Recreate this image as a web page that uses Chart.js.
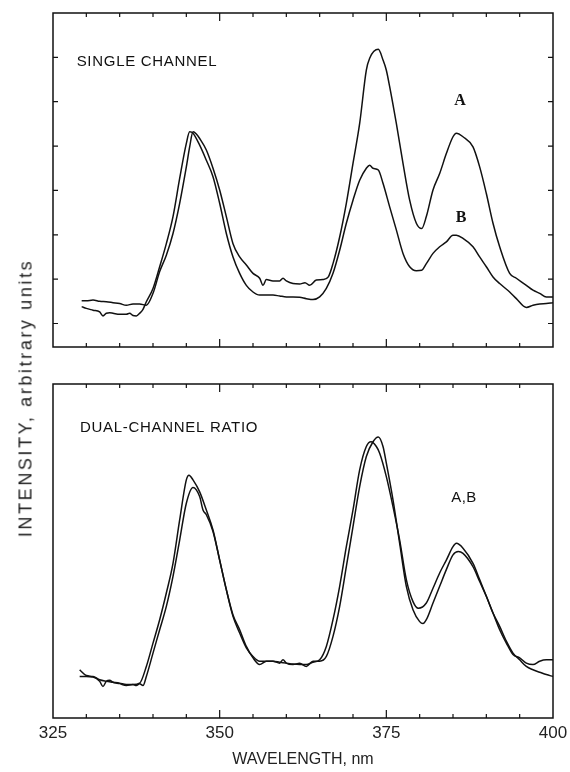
<!DOCTYPE html>
<html lang="en">
<head>
  <meta charset="UTF-8">
  <title>Intensity vs wavelength</title>
  <script src="https://cdn.jsdelivr.net/npm/chart.js"></script>
  <style>
    body { margin: 0; background: #fff; width: 570px; height: 772px; position: relative; overflow: hidden; }
    canvas { position: absolute; left: 0; }
    #topChart { top: 0; }
    #botChart { top: 360px; }
    #ylabel {
      position: absolute; left: 26px; top: 398px;
      transform: translate(-50%, -50%) rotate(-90deg);
      white-space: nowrap; color: #222;
      font: 18px "Liberation Sans", Arial, sans-serif; letter-spacing: 2.6px;
    }
  </style>
</head>
<body>
  <canvas id="topChart" width="570" height="360"></canvas>
  <canvas id="botChart" width="570" height="412"></canvas>
  <div id="ylabel">INTENSITY, arbitrary units</div>

  <script>
    // --- single channel (top panel) ---
    const topWlA = [329.3,330,331,332,333,334,335,336,337,338,339,340,341,342,343,344,345,345.5,346,346.5,
      347,348,349,350,351,352,353,354,355,356,356.5,357,358,359,359.5,360,361,362,362.8,363.5,
      364.5,365.5,366.3,367,368,369,370,371,372,372.5,373.8,374.5,375,375.5,376.5,377.5,378.5,379.5,380.3,381,
      382,383,384,385,385.5,386.5,388,389,390,391,392,393.5,394.5,396,397,398,399,400];
    const topA = [0.51,0.51,0.53,0.50,0.49,0.47,0.45,0.41,0.44,0.44,0.41,0.68,1.17,1.54,2.03,2.71,3.53,3.98,4.32,4.27,
      4.17,3.91,3.50,3.01,2.41,1.80,1.50,1.32,1.13,1.02,0.86,0.99,0.96,0.96,1.02,0.96,0.90,0.89,0.92,0.86,
      0.98,0.99,1.05,1.35,1.95,2.71,3.61,4.51,5.71,5.98,6.18,5.94,5.71,5.34,4.51,3.61,2.78,2.26,2.14,2.41,
      3.01,3.38,3.83,4.21,4.29,4.21,3.98,3.53,2.93,2.26,1.73,1.13,1.02,0.86,0.75,0.68,0.60,0.60];

    const topWlB = [329.3,330,331,332,332.5,333,333.5,334,335,336,336.5,337,337.5,338,338.5,339,340,341,342,343,
      344,345,345.5,346,347,348,349,350,351,352,353,354,355,356,357,358,359,360,361,362,
      363,364,365,366,367,368,369,370,371,372,372.5,373,373.8,374.5,375.5,376.5,377.5,378.5,379.5,380.3,
      381,382,383,384,385,385.5,386.5,388,389,390,391,392,393.5,394.5,396,397,398,399,400];
    const topB = [0.38,0.34,0.30,0.26,0.17,0.23,0.24,0.23,0.21,0.21,0.23,0.18,0.17,0.23,0.32,0.49,0.79,1.28,1.80,2.41,
      3.27,4.06,4.32,4.29,4.02,3.68,3.31,2.71,2.03,1.50,1.13,0.86,0.71,0.64,0.64,0.64,0.62,0.60,0.60,0.59,
      0.56,0.54,0.60,0.79,1.13,1.65,2.26,2.78,3.23,3.50,3.57,3.50,3.46,3.16,2.63,2.11,1.58,1.28,1.19,1.20,
      1.35,1.58,1.73,1.84,1.99,1.99,1.92,1.73,1.50,1.28,1.05,0.90,0.71,0.56,0.36,0.41,0.44,0.45,0.47];

    // --- dual-channel ratio (bottom panel) ---
    const botWlA = [329,330,331,332,333,334,335,336,337,338,339,340,341,342,343,344,345,345.4,346,347,
      348,349,350,351,352,353,354,355,356,357,358,359,360,361,362,363,364,365,366,367,
      368,369,370,371,372,372.7,373.5,374,375,376,377,378,379,379.8,381,382,383,384,385,385.5,
      386.5,388,389,390,391,392,393,394,395,396,397,398,399,400];
    const botA = [0.52,0.40,0.38,0.31,0.28,0.26,0.24,0.21,0.21,0.24,0.59,1.08,1.57,2.13,2.75,3.66,4.50,4.60,4.50,4.25,
      3.87,3.45,2.82,2.20,1.64,1.29,0.98,0.80,0.70,0.70,0.70,0.68,0.66,0.64,0.63,0.63,0.68,0.73,1.01,1.57,
      2.27,3.10,3.87,4.71,5.20,5.30,5.20,5.06,4.57,3.94,3.24,2.41,1.95,1.81,1.92,2.23,2.55,2.82,3.10,3.17,
      3.07,2.75,2.41,2.06,1.71,1.36,1.08,0.84,0.77,0.66,0.63,0.70,0.73,0.73];

    const botWlB = [329,330,331,332,332.5,333,333.5,334,335,336,337,337.5,338,338.5,339,340,341,342,343,344,
      345,346,347,347.5,348,349,350,351,352,353,354,355,356,357,358,359,359.5,360,361,362,
      363,364,365,366,367,368,369,370,371,372,373,373.8,374.5,375,376,377,378,379,380,380.5,
      381,382,383,384,385,385.8,386.5,388,389,390,391,392,393,394,395,396,397,398,399,400];
    const botB = [0.38,0.38,0.37,0.28,0.17,0.28,0.30,0.26,0.23,0.19,0.21,0.19,0.23,0.19,0.38,0.87,1.36,1.85,2.48,3.24,
      4.01,4.34,4.15,3.87,3.77,3.42,2.82,2.20,1.67,1.36,1.01,0.77,0.63,0.70,0.70,0.66,0.73,0.66,0.63,0.66,
      0.59,0.70,0.70,0.80,1.22,1.85,2.68,3.52,4.36,4.99,5.30,5.40,5.20,4.85,4.08,3.17,2.27,1.78,1.53,1.49,
      1.57,1.92,2.27,2.62,2.93,3.00,2.96,2.68,2.37,2.06,1.71,1.43,1.12,0.87,0.73,0.59,0.52,0.47,0.42,0.38];

    const xLabelValues = [325, 350, 375, 400];

    const ink = '#111';
    const sans = '"Liberation Sans", Arial, sans-serif';

    const toPoints = (xs, ys) => xs.map((v, i) => ({ x: v, y: ys[i] }));

    // frame with inward tick marks on all four sides
    const frameTicks = {
      id: 'frameTicks',
      afterDatasetsDraw(chart) {
        const { ctx, chartArea: a, scales: { x, y } } = chart;
        ctx.save();
        ctx.strokeStyle = ink;
        ctx.lineWidth = 1.5;
        ctx.strokeRect(a.left, a.top, a.right - a.left, a.bottom - a.top);
        ctx.lineWidth = 1.2;
        ctx.beginPath();
        x.ticks.forEach(t => {
          if (t.value <= x.min || t.value >= x.max) return;
          const px = x.getPixelForValue(t.value);
          const len = xLabelValues.includes(t.value) ? 8 : 4;
          ctx.moveTo(px, a.bottom); ctx.lineTo(px, a.bottom - len);
          ctx.moveTo(px, a.top); ctx.lineTo(px, a.top + len);
        });
        y.ticks.forEach(t => {
          if (!Number.isInteger(t.value) || t.value <= y.min || t.value >= y.max) return;
          const py = y.getPixelForValue(t.value);
          ctx.moveTo(a.left, py); ctx.lineTo(a.left + 5, py);
          ctx.moveTo(a.right, py); ctx.lineTo(a.right - 5, py);
        });
        ctx.stroke();
        ctx.restore();
      }
    };

    // text notes placed in data coordinates
    const panelText = {
      id: 'panelText',
      afterDraw(chart, args, opts) {
        const { ctx, scales: { x, y } } = chart;
        ctx.save();
        ctx.fillStyle = ink;
        ctx.textBaseline = 'middle';
        (opts.items || []).forEach(it => {
          ctx.font = it.font;
          ctx.textAlign = it.align || 'left';
          ctx.letterSpacing = it.spacing || '0px';
          ctx.fillText(it.text, x.getPixelForValue(it.x), y.getPixelForValue(it.y));
        });
        ctx.restore();
      }
    };

    function lineSet(xs, ys) {
      return {
        data: toPoints(xs, ys),
        borderColor: ink,
        borderWidth: 1.5,
        pointRadius: 0,
        fill: false,
        cubicInterpolationMode: 'monotone'
      };
    }

    function makeChart(id, sets, yMin, yMax, notes, showX, pad) {
      return new Chart(document.getElementById(id), {
        type: 'line',
        data: { datasets: sets },
        options: {
          responsive: false,
          animation: false,
          events: [],
          layout: { padding: pad },
          plugins: { legend: { display: false }, tooltip: { enabled: false }, panelText: { items: notes } },
          scales: {
            x: {
              type: 'linear', min: 325, max: 400,
              display: showX,
              border: { display: false },
              grid: { display: false, drawTicks: false },
              ticks: {
                stepSize: 5, autoSkip: false, maxRotation: 0, padding: 5,
                color: '#222', font: { family: sans, size: 17 },
                callback: v => xLabelValues.includes(v) ? String(v) : ''
              },
              title: {
                display: showX, text: 'WAVELENGTH, nm', color: '#222',
                font: { family: sans, size: 16 }, padding: { top: 0, bottom: 3 }
              },
              afterFit: s => {
                s.paddingLeft = 0; s.paddingRight = 0;
                if (showX) s.height = 54;
              }
            },
            y: {
              min: yMin, max: yMax, display: false,
              ticks: { stepSize: 1 }
            }
          }
        },
        plugins: [frameTicks, panelText]
      });
    }

    makeChart('topChart', [lineSet(topWlA, topA), lineSet(topWlB, topB)], -0.53, 7, [
      { text: 'SINGLE CHANNEL', x: 328.55, y: 5.9, font: '15px ' + sans, spacing: '0.7px' },
      { text: 'A', x: 386.05, y: 5.02, font: 'bold 16px "Liberation Serif", serif', align: 'center' },
      { text: 'B', x: 386.2, y: 2.38, font: 'bold 16px "Liberation Serif", serif', align: 'center' }
    ], false, { top: 13, left: 53, right: 17, bottom: 13 });

    makeChart('botChart', [lineSet(botWlA, botA), lineSet(botWlB, botB)], -0.49, 6.51, [
      { text: 'DUAL-CHANNEL RATIO', x: 329.05, y: 5.6, font: '15px ' + sans, spacing: '0.7px' },
      { text: 'A,B', x: 386.65, y: 4.12, font: '15px ' + sans, align: 'center', spacing: '0.5px' }
    ], true, { top: 24, left: 53, right: 17, bottom: 0 });
  </script>
</body>
</html>
